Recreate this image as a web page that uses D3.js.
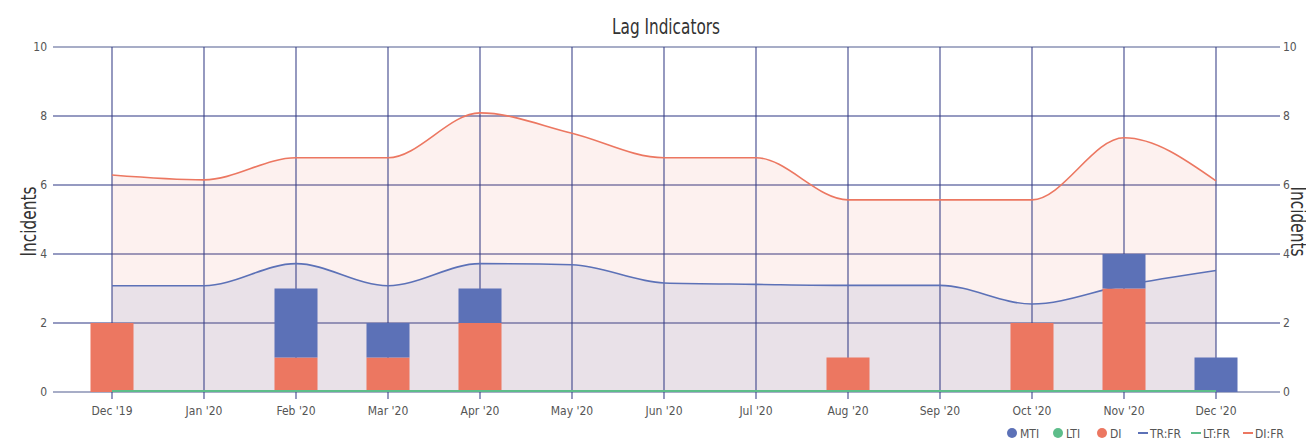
<!DOCTYPE html>
<html>
<head>
<meta charset="utf-8">
<script src="https://cdn.jsdelivr.net/npm/d3@7/dist/d3.min.js"></script>
<style>
  body { margin: 0; background: #fff; }
  svg text { font-family: "Liberation Sans Narrow", "DejaVu Sans Condensed", "Roboto", sans-serif; }
</style>
</head>
<body>
<svg id="chart" width="1306" height="441"></svg>
<script>
// Data
const months = ["Dec '19", "Jan '20", "Feb '20", "Mar '20", "Apr '20", "May '20", "Jun '20",
  "Jul '20", "Aug '20", "Sep '20", "Oct '20", "Nov '20", "Dec '20"];
const mti = [0, 0, 2, 1, 1, 0, 0, 0, 0, 0, 0, 1, 1];
const lti = [0, 0, 0, 0, 0, 0, 0, 0, 0, 0, 0, 0, 0];
const di = [2, 0, 1, 1, 2, 0, 0, 0, 1, 0, 2, 3, 0];
const trfr = [3.08, 3.08, 3.72, 3.08, 3.72, 3.69, 3.16, 3.12, 3.09, 3.09, 2.55, 3.09, 3.52];
const ltfr = [0, 0, 0, 0, 0, 0, 0, 0, 0, 0, 0, 0, 0];
const difr = [6.29, 6.15, 6.79, 6.79, 8.09, 7.5, 6.79, 6.79, 5.57, 5.57, 5.57, 7.37, 6.12];
const yTicks = [0, 2, 4, 6, 8, 10];

const colors = { mti: "#5c71b7", lti: "#5dbd8a", di: "#ec7761" };
const gridDark = "#2d3684";
const gridLight = "#8a92b5";

const svg = d3.select("#chart");
const plot = { left: 53, right: 1280, top: 47, bottom: 392 };

const x = d3.scalePoint().domain(months).range([112, 1216]);
const y = d3.scaleLinear().domain([0, 10]).range([plot.bottom, plot.top]);
const barW = 43;

// title
svg.append("text")
  .attr("x", 666).attr("y", 34)
  .attr("text-anchor", "middle")
  .attr("font-size", 21)
  .attr("fill", "#333")
  .attr("textLength", 108)
  .attr("lengthAdjust", "spacingAndGlyphs")
  .text("Lag Indicators");

// axis titles
svg.append("text")
  .attr("transform", `translate(36,${(plot.top + plot.bottom) / 2 + 2}) rotate(-90)`)
  .attr("text-anchor", "middle")
  .attr("font-size", 21)
  .attr("fill", "#333")
  .attr("textLength", 70)
  .attr("lengthAdjust", "spacingAndGlyphs")
  .text("Incidents");
svg.append("text")
  .attr("transform", `translate(1291,${(plot.top + plot.bottom) / 2 + 2}) rotate(90)`)
  .attr("text-anchor", "middle")
  .attr("font-size", 21)
  .attr("fill", "#333")
  .attr("textLength", 70)
  .attr("lengthAdjust", "spacingAndGlyphs")
  .text("Incidents");

// horizontal gridlines
svg.append("g").selectAll("line")
  .data(yTicks)
  .join("line")
  .attr("x1", plot.left).attr("x2", plot.right)
  .attr("y1", (d) => y(d)).attr("y2", (d) => y(d))
  .attr("stroke", (d) => (d === 0 || d === 10 ? gridLight : gridDark))
  .attr("stroke-width", (d) => (d === 0 || d === 10 ? 1.5 : 1.2));

// y tick labels
const yl = svg.append("g").attr("font-size", 12).attr("fill", "#555");
yl.selectAll("text.l")
  .data(yTicks)
  .join("text")
  .attr("class", "l")
  .attr("x", 47).attr("y", (d) => y(d) + 4)
  .attr("text-anchor", "end")
  .text((d) => d);
yl.selectAll("text.r")
  .data(yTicks)
  .join("text")
  .attr("class", "r")
  .attr("x", 1283).attr("y", (d) => y(d) + 4)
  .text((d) => d);

// areas + lines
const idx = months.map((m, i) => i);
const area = (vals) => d3.area()
  .curve(d3.curveMonotoneX)
  .x((i) => x(months[i]))
  .y0(y(0))
  .y1((i) => y(vals[i]));
const line = (vals) => d3.line()
  .curve(d3.curveMonotoneX)
  .x((i) => x(months[i]))
  .y((i) => y(vals[i]));

svg.append("path").attr("d", area(difr)(idx)).attr("fill", colors.di).attr("fill-opacity", 0.1);
svg.append("path").attr("d", area(trfr)(idx)).attr("fill", colors.mti).attr("fill-opacity", 0.12);

// vertical gridlines + ticks
svg.append("g").selectAll("line")
  .data(months)
  .join("line")
  .attr("x1", (d) => x(d)).attr("x2", (d) => x(d))
  .attr("y1", plot.top).attr("y2", plot.bottom + 7)
  .attr("stroke", "#353d86")
  .attr("stroke-opacity", 0.8)
  .attr("stroke-width", 1.3);

svg.append("path").attr("d", line(difr)(idx)).attr("fill", "none").attr("stroke", colors.di).attr("stroke-width", 1.6);
svg.append("path").attr("d", line(trfr)(idx)).attr("fill", "none").attr("stroke", colors.mti).attr("stroke-width", 1.6);

// stacked bars: DI at bottom, LTI, MTI on top
const stackData = months.map((m, i) => ({ month: m, di: di[i], lti: lti[i], mti: mti[i] }));
const stack = d3.stack().keys(["di", "lti", "mti"])(stackData);
svg.append("g").selectAll("g")
  .data(stack)
  .join("g")
  .attr("fill", (s) => colors[s.key])
  .selectAll("rect")
  .data((s) => s.filter((d) => d[1] > d[0]))
  .join("rect")
  .attr("x", (d) => x(d.data.month) - barW / 2)
  .attr("width", barW)
  .attr("y", (d) => y(d[1]))
  .attr("height", (d) => y(d[0]) - y(d[1]));

svg.append("path").attr("d", line(ltfr)(idx)).attr("fill", "none").attr("stroke", colors.lti).attr("stroke-width", 2)
  .attr("transform", "translate(0,-1)");

// x labels
svg.append("g").selectAll("text")
  .data(months)
  .join("text")
  .attr("x", (d) => x(d)).attr("y", 415)
  .attr("text-anchor", "middle")
  .attr("font-size", 12)
  .attr("fill", "#555")
  .text((d) => d);

// legend
const legend = [
  { label: "MTI", type: "dot", color: colors.mti, x: 1012 },
  { label: "LTI", type: "dot", color: colors.lti, x: 1058 },
  { label: "DI", type: "dot", color: colors.di, x: 1102 },
  { label: "TR:FR", type: "line", color: colors.mti, x: 1138 },
  { label: "LT:FR", type: "line", color: colors.lti, x: 1191 },
  { label: "DI:FR", type: "line", color: colors.di, x: 1243 }
];
const lg = svg.append("g");
legend.forEach((l) => {
  if (l.type === "dot") {
    lg.append("circle").attr("cx", l.x).attr("cy", 433).attr("r", 5).attr("fill", l.color);
    lg.append("text").attr("x", l.x + 8).attr("y", 437.5).attr("font-size", 12).attr("fill", "#555").text(l.label);
  } else {
    lg.append("line").attr("x1", l.x).attr("x2", l.x + 10).attr("y1", 433).attr("y2", 433)
      .attr("stroke", l.color).attr("stroke-width", 2);
    lg.append("text").attr("x", l.x + 12).attr("y", 437.5).attr("font-size", 12).attr("fill", "#555").text(l.label);
  }
});
</script>
</body>
</html>
